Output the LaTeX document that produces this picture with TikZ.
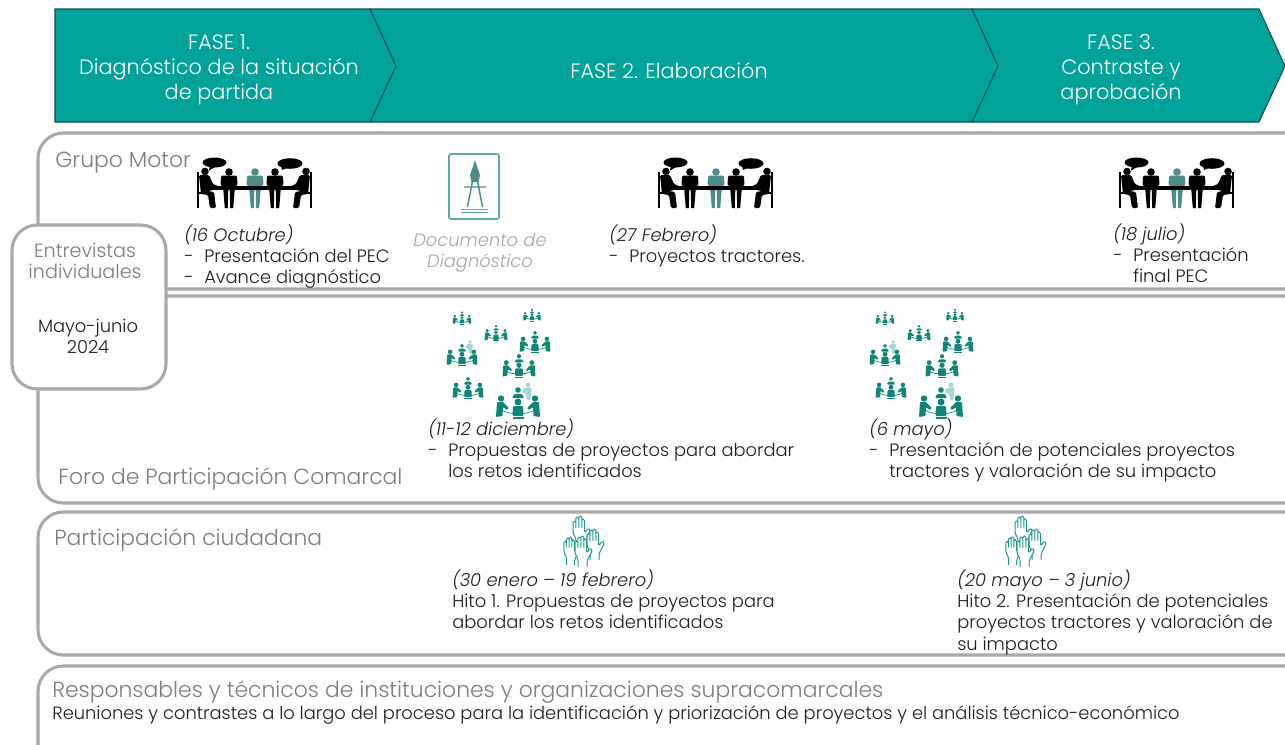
\documentclass[tikz,border=0pt]{standalone}
\usepackage{fontspec}
\setmainfont{Poppins}[UprightFont=* Light,ItalicFont=* Light Italic,BoldFont=*]
\definecolor{phasefill}{HTML}{00A29A}
\definecolor{phaseline}{HTML}{0B4F4C}
\definecolor{boxgrey}{HTML}{A8A8A8}
\definecolor{titlegrey}{HTML}{7D7D7D}
\definecolor{docgrey}{HTML}{A6A6A6}
\definecolor{ink}{HTML}{1D1D1B}
\definecolor{groupteal}{HTML}{0E8576}
\definecolor{lightteal}{HTML}{A7D5D1}
\definecolor{meetteal}{HTML}{4F8C88}
\definecolor{docteal}{HTML}{5FA8A3}
\definecolor{handteal}{HTML}{1F9C91}
\newcommand{\tl}[1]{\begin{tabular}[t]{@{}l@{}}#1\end{tabular}}
\newcommand{\tc}[1]{\begin{tabular}[t]{@{}c@{}}#1\end{tabular}}
\newcommand{\dsh}{\makebox[15pt][l]{-}}
\newcommand{\ind}{\hspace*{15pt}}
\tikzset{
  x=.75pt,y=-.75pt,
  phase/.style={fill=phasefill,draw=phaseline,line width=.8pt},
  panel/.style={draw=boxgrey,line width=2.3pt,rounded corners=19pt},
  headtext/.style={inner sep=0pt,anchor=base,text=white,font=\fontsize{15.6}{19}\selectfont},
  body/.style={inner sep=0pt,anchor=base west,text=ink,font=\fontsize{13.4}{16.1}\selectfont},
  title/.style={inner sep=0pt,anchor=base west,text=titlegrey,font=\fontsize{16.4}{16}\selectfont},
  greytext/.style={inner sep=0pt,anchor=base,text=titlegrey,font=\fontsize{14.4}{16.1}\selectfont},
  doctext/.style={inner sep=0pt,anchor=base,text=docgrey,font=\fontsize{13.4}{16.1}\selectfont\itshape},
  pics/seated/.style={code={
    \fill[#1] (0,0) circle (3.8);
    \fill[#1,rounded corners=1.5pt] (-8,3.5) -- (8,3.5) -- (8.5,14) -- (-8.5,14) -- cycle;
    \fill[#1] (-6,14) -- (-.6,14) -- (-1.2,36) -- (-4.2,36) -- cycle;
    \fill[#1] (6,14) -- (.6,14) -- (1.2,36) -- (4.2,36) -- cycle;
  }},
  pics/meet/.style={code={
    \fill[black] (17.5,7.5) ellipse (12 and 5);
    \fill[black] (13,10) -- (12,15.5) -- (20,11) -- cycle;
    \fill[black] (93,8.5) ellipse (12.5 and 5.3);
    \fill[black] (84,10) -- (85,15) -- (92,12) -- cycle;
    \draw[black,line width=1pt] (1,17) -- (1,53) (1,38) -- (15,38) (15,38) -- (15,53);
    \draw[black,line width=1pt] (114,17) -- (114,53) (114,38) -- (100,38) (100,38) -- (100,53);
    \fill[black] (8,16.5) circle (3.8);
    \fill[black,rounded corners=1pt] (2,20) -- (12,20) -- (16,29) -- (21,31) -- (21,34) -- (11,36) -- (17,37) -- (19,53) -- (13,53) -- (11,40) -- (4,39) -- cycle;
    \fill[black] (109,16.5) circle (3.8);
    \fill[black,rounded corners=1pt] (113,20) -- (103,20) -- (99,29) -- (94,31) -- (94,34) -- (104,36) -- (98,37) -- (96,53) -- (102,53) -- (104,40) -- (111,39) -- cycle;
    \pic at (32,17) {seated=black};
    \pic at (58,17) {seated=meetteal};
    \pic at (78,17) {seated=black};
    \fill[black] (16,30.5) rectangle (99,34.5);
  }},
  pics/cluster/.style={code={
    \draw[groupteal,line width=.5pt] (-17,7) .. controls (-8,12) and (8,12) .. (17,7);
    \fill[groupteal] (0,-13) circle (2.8);
    \fill[groupteal,rounded corners=.8pt] (-6,-5) -- (-4,-9) -- (4,-9) -- (6,-5) -- cycle;
    \fill[groupteal] (0,-1) circle (3.5);
    \fill[groupteal,rounded corners=.8pt] (-5,3) -- (5,3) -- (5.5,13) -- (-5.5,13) -- cycle;
    \fill[groupteal] (-5.5,14) rectangle (5.5,15.5);
    \foreach \sx in {-1,1}{
      \begin{scope}[xscale=\sx]
      \fill[groupteal] (17,-4.5) circle (3.2);
      \fill[groupteal,rounded corners=.6pt] (21,-1) -- (15,-1) -- (9,5) -- (11,7) -- (15,4) -- (15.5,13) -- (22,14) -- cycle;
      \end{scope}
    }
  }},
  pics/helper/.style={code={
    \fill[lightteal] (0,0) circle (3.2);
    \fill[lightteal,rounded corners=.8pt] (-5,3.5) -- (5,3.5) -- (4,12) -- (3,20) -- (-1,20) -- (-2,12) -- (-8,9) -- cycle;
  }},
  pics/people/.style={code={
    \pic[scale=.42] at (462,318) {cluster};
    \pic[scale=.4] at (532,315) {cluster};
    \pic[scale=.52] at (496,333) {cluster};
    \pic[scale=.7] at (535,342) {cluster};
    \pic[scale=.6] at (470,342) {helper};
    \pic[scale=.7] at (462,355) {cluster};
    \pic[scale=.75] at (519,366) {cluster};
    \pic[scale=.7] at (468,388) {cluster};
    \pic[scale=.75] at (528,385) {helper};
    \pic at (518,403) {cluster};
  }},
  pics/hand/.style={code={
    \draw[handteal,fill=white,line width=.75pt,rounded corners=1.1pt,line join=round]
      (4,32) -- (4,24) -- (1,18) -- (1,6) -- (3.8,6) -- (3.8,14) -- (3.8,2) -- (6.8,2) -- (6.8,14)
      -- (6.8,1) -- (9.8,1) -- (9.8,14) -- (9.8,4) -- (12.5,4) -- (12.5,18) -- (16.5,13) -- (18.5,15) -- (13,26) -- (13,32);
  }},
  pics/hands/.style={code={
    \pic at (9,0) {hand};
    \pic at (23,13) {hand};
    \pic[scale=.9] at (0,21) {hand};
    \pic at (11,20) {hand};
  }},
  pics/compassdoc/.style={code={
    \draw[docteal,line width=1.2pt,rounded corners=1.5pt] (0,0) rectangle (50,65);
    \fill[meetteal] (26,6) -- (27.5,11) -- (31,21) -- (29.5,28) -- (22.5,28) -- (21,21) -- (24.5,11) -- cycle;
    \draw[meetteal,line width=1.1pt] (23.5,27) -- (18.5,53) (28.5,27) -- (33.5,53) (15,33) -- (37,33);
    \draw[docteal,line width=.7pt] (12,55) -- (39,55) (12,58) -- (39,58);
  }}
}
\begin{document}
\begin{tikzpicture}
\path[use as bounding box] (0,0) rectangle (1285,744);
\clip (0,0) rectangle (1285,744);
% phases
\draw[phase] (972,9) -- (1259,9) -- (1285,66) -- (1259,122) -- (972,122) -- cycle;
\draw[phase] (370,9) -- (972,9) -- (998,66) -- (972,122) -- (370,122) -- cycle;
\draw[phase] (55,9) -- (370,9) -- (396,66) -- (370,122) -- (55,122) -- cycle;
\node[headtext] (f1) at (219,49) {\tc{FASE 1.\\Diagnóstico de la situación\\de partida}};
\node[headtext] (f2) at (669,78) {FASE 2. Elaboración};
\node[headtext] (f3) at (1121,49) {\tc{FASE 3.\\Contraste y\\aprobación}};
% panels
\draw[panel] (38,133) rectangle (1320,289);
\draw[panel] (38,296) rectangle (1320,503);
\draw[panel] (38,512) rectangle (1320,655);
\draw[panel] (38,666) rectangle (1320,780);
\draw[panel,fill=white] (12,225) rectangle (166,389);
% titles
\node[title] (t1) at (55,167) {Grupo Motor};
\node[title] (t2) at (58,484) {Foro de Participación Comarcal};
\node[title] (t3) at (54,545) {Participación ciudadana};
\node[title] (t4) at (52,697) {Responsables y técnicos de instituciones y organizaciones supracomarcales};
% icons
\pic at (197,155) {meet};
\pic at (658,155) {meet};
\pic at (1119,155) {meet};
\pic at (449,154) {compassdoc};
\pic at (0,0) {people};
\pic at (423,0) {people};
\pic at (563,515) {hands};
\pic at (1005,515) {hands};
% texts
\node[greytext] (e1) at (85,257) {\tc{Entrevistas\\individuales}};
\node[body,anchor=base] (e2) at (88,332) {\tc{Mayo-junio\\2024}};
\node[doctext] (doc) at (480,246) {\tc{Documento de\\Diagnóstico}};
\node[body] (a1) at (184,241) {\tl{\textit{(16 Octubre)}\\\dsh Presentación del PEC\\\dsh Avance diagnóstico}};
\node[body] (a2) at (609,241) {\tl{\textit{(27 Febrero)}\\\dsh Proyectos tractores.}};
\node[body] (a3) at (1113,240) {\tl{\textit{(18 julio)}\\\dsh Presentación\\\ind final PEC}};
\node[body] (b1) at (428,435) {\tl{\textit{(11-12 diciembre)}\\\dsh Propuestas de proyectos para abordar\\\ind los retos identificados}};
\node[body] (b2) at (869,435) {\tl{\textit{(6 mayo)}\\\dsh Presentación de potenciales proyectos\\\ind tractores y valoración de su impacto}};
\node[body] (c1) at (452,586) {\tl{\textit{(30 enero – 19 febrero)}\\Hito 1. Propuestas de proyectos para\\abordar los retos identificados}};
\node[body] (c2) at (957,586) {\tl{\textit{(20 mayo – 3 junio)}\\Hito 2. Presentación de potenciales\\proyectos tractores y valoración de\\su impacto}};
\node[body] (d1) at (52,719) {Reuniones y contrastes a lo largo del proceso para la identificación y priorización de proyectos y el análisis técnico-económico};
\end{tikzpicture}
\end{document}
